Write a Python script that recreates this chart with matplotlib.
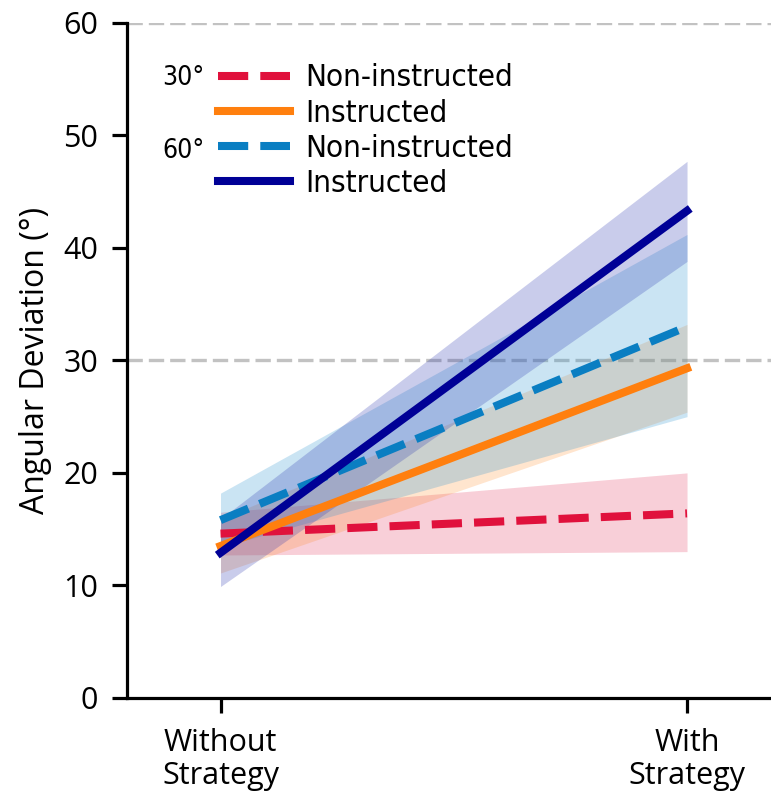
import matplotlib.pyplot as plt
from matplotlib import font_manager

# x positions / tick labels
conditions = ['Without\nStrategy', 'With\nStrategy']
x_pos = [0, 1]

# means and band limits (angular deviation, deg)
red_mean = [14.6, 16.4]
red_low = [12.7, 13.0]
red_high = [16.5, 20.0]

orange_mean = [13.5, 29.3]
orange_low = [11.1, 25.4]
orange_high = [15.9, 33.2]

blue_mean = [15.8, 33.0]
blue_low = [13.4, 25.0]
blue_high = [18.2, 41.2]

navy_mean = [12.9, 43.3]
navy_low = [9.9, 38.8]
navy_high = [15.9, 47.7]

red = '#e0113c'
orange = '#ff7f0e'
blue = '#0a7ec2'
navy = '#000096'

# narrow font for legend if one is around
names = {f.name for f in font_manager.fontManager.ttflist}
if 'Liberation Sans Narrow' in names:
    narrow = dict(family=['Liberation Sans Narrow', 'DejaVu Sans'])
else:
    narrow = dict(family=['DejaVu Sans'], stretch='condensed')

fig = plt.figure(figsize=(7.71, 7.93), dpi=100)
ax = fig.add_axes([0.165, 0.12, 0.835, 0.851])

# reference lines
for yref in (30, 60):
    ax.axhline(yref, color='#c2c2c2', lw=2.4, dashes=(4.6, 1.8), zorder=0)

ax.fill_between(x_pos, red_low, red_high, color=red, alpha=0.2, lw=0)
ax.fill_between(x_pos, orange_low, orange_high, color=orange, alpha=0.2, lw=0)
ax.fill_between(x_pos, blue_low, blue_high, color='#2c95d0', alpha=0.25, lw=0)
ax.fill_between(x_pos, navy_low, navy_high, color='#2a35b0', alpha=0.25, lw=0)

lw = 5.8
dash = (3.75, 1.5)
ax.plot(x_pos, red_mean, color=red, lw=lw, dashes=dash, label='Non-instructed')
ax.plot(x_pos, orange_mean, color=orange, lw=lw, label='Instructed')
ax.plot(x_pos, blue_mean, color=blue, lw=lw, dashes=dash, label='Non-instructed')
ax.plot(x_pos, navy_mean, color=navy, lw=lw, label='Instructed')

ax.set_xlim(-0.2, 1.18)
ax.set_ylim(0, 60)
ax.set_yticks([0, 10, 20, 30, 40, 50, 60])
ax.set_xticks(x_pos)
ax.set_xticklabels(conditions, fontsize=22, family='Open Sans', linespacing=1.1)
ax.set_yticklabels([str(v) for v in range(0, 70, 10)], fontsize=22, family='Open Sans')

ax.set_ylabel('Angular Deviation (°)', fontsize=23, family='Open Sans', labelpad=8)

for s in ('top', 'right'):
    ax.spines[s].set_visible(False)
ax.spines['left'].set_linewidth(2.3)
ax.spines['bottom'].set_linewidth(2.3)
ax.tick_params(axis='y', length=11, width=2.3, pad=10)
ax.tick_params(axis='x', length=11, width=2.3, pad=11)

leg = ax.legend(loc='upper left', bbox_to_anchor=(0.141, 0.94), frameon=False,
                handlelength=2.3, handletextpad=0.5, labelspacing=0.2,
                borderaxespad=0, borderpad=0, prop=dict(size=22.5, **narrow))

ax.text(0.12, 0.918, '30°', transform=ax.transAxes, ha='right', va='center',
        fontsize=19, **narrow)
ax.text(0.12, 0.81, '60°', transform=ax.transAxes, ha='right', va='center',
        fontsize=19, **narrow)

fig.savefig('out.png', dpi=100)
